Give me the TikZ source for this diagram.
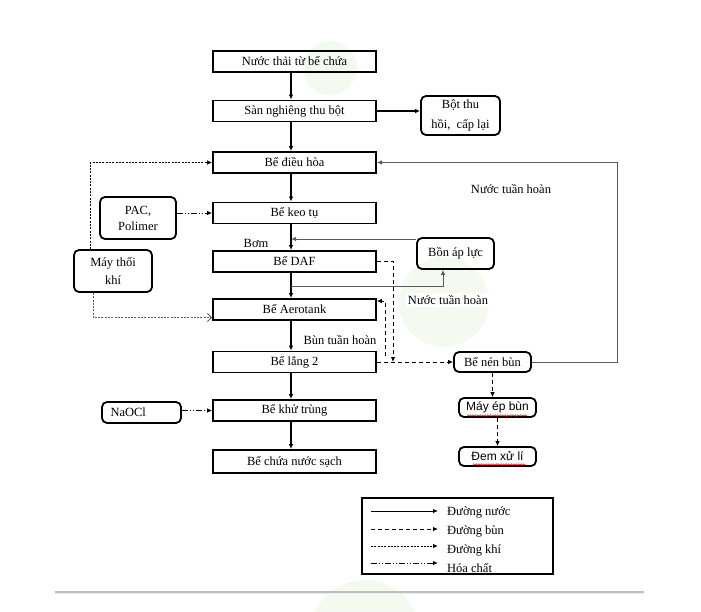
\documentclass[tikz,border=0pt]{standalone}
\usepackage{fontspec}
\setmainfont{Liberation Serif}
\newfontfamily\arialfont{Liberation Sans}
\usetikzlibrary{arrows.meta,decorations.pathmorphing}
\definecolor{wmgreen}{RGB}{245,250,241}
\definecolor{linegray}{RGB}{90,90,90}
\begin{document}
\begin{tikzpicture}[x=1pt,y=-1pt,
  font=\fontsize{12.5}{17}\selectfont,
  mainbox/.style={draw, line width=1.8pt, minimum width=163pt, minimum height=21pt, inner sep=0pt},
  sidebox/.style={draw, line width=1.8pt, rounded corners=5pt, align=center, inner sep=0pt},
  tip/.style={-{Latex[length=5pt,width=4.5pt]}},
  flow/.style={tip, line width=1.5pt},
  grayflow/.style={tip, line width=0.9pt, draw=linegray},
  sludge/.style={tip, line width=0.9pt, dash pattern=on 4pt off 3pt},
  air/.style={line width=0.9pt, dash pattern=on 2pt off 1.3pt},
  chem/.style={tip, line width=0.9pt, dash pattern=on 6pt off 2pt on 1pt off 2pt on 1pt off 2pt},
  lbl/.style={inner sep=1pt},
  squig/.style={draw=red, line width=0.5pt, decorate, decoration={snake, amplitude=0.7pt, segment length=2.5pt}}
]
\useasboundingbox (0,0) rectangle (701,611);
% faint watermark
\fill[wmgreen] (330,68) circle (27);
\fill[wmgreen] (444,302) circle (45);
\fill[wmgreen] (365,635) circle (55);

% main column
\node[mainbox] (b1) at (294.5,61.5) {Nước thải từ bể chứa};
\node[mainbox] (b2) at (294.5,111) {Sàn nghiêng thu bột};
\node[mainbox] (b3) at (294.5,162.5) {Bể điều hòa};
\node[mainbox] (b4) at (294.5,213) {Bể keo tụ};
\node[mainbox] (b5) at (294.5,261.5) {Bể DAF};
\node[mainbox] (b6) at (294.5,309.5) {Bể Aerotank};
\node[mainbox] (b7) at (294.5,362) {Bể lắng 2};
\node[mainbox] (b8) at (294.5,410.5) {Bể khử trùng};
\node[mainbox, minimum height=23pt] (b9) at (294.5,461.5) {Bể chứa nước sạch};

% side boxes
\node[sidebox, minimum width=79pt, minimum height=39pt, font=\fontsize{12.5}{20}\selectfont] (bot) at (460.5,115.5) {Bột thu\\hồi,\ \ cấp lại};
\node[sidebox, minimum width=76pt, minimum height=42pt, font=\fontsize{12.5}{16}\selectfont] (pac) at (138,218) {PAC,\\Polimer};
\node[sidebox, minimum width=78pt, minimum height=42pt, font=\fontsize{12.5}{18}\selectfont] (may) at (113,271) {Máy thổi\\khí};
\node[sidebox, minimum width=79pt, minimum height=21pt, text width=62pt, align=left] (naocl) at (141.5,412.5) {NaOCl};
\node[sidebox, minimum width=77pt, minimum height=31pt] (bon) at (455.5,253.5) {Bồn áp lực};
\node[sidebox, minimum width=77pt, minimum height=20pt] (nen) at (492.5,362) {Bể nén bùn};
\node[sidebox, minimum width=77pt, minimum height=19pt, font=\arialfont\fontsize{12}{14}\selectfont] (ep) at (497.5,407.5) {Máy ép bùn};
\node[sidebox, minimum width=77pt, minimum height=19pt, font=\arialfont\fontsize{12}{14}\selectfont] (dem) at (497.5,456.5) {Đem xử lí};

% spell-check squiggles
\coordinate (q1) at (467,415.5); \coordinate (q2) at (527,415.5);
\coordinate (q3) at (473,464.5); \coordinate (q4) at (525,464.5);
\draw[squig] (q1) -- (q2);
\draw[squig] (q3) -- (q4);

% main flow
\foreach \a/\b in {b1/b2,b2/b3,b3/b4,b4/b5,b5/b6,b6/b7,b7/b8,b8/b9}
  \draw[flow] ([xshift=-3.5pt]\a.south) -- ([xshift=-3.5pt]\b.north);
\draw[flow] (b2.east) -- (b2.east -| bot.west);

% recirculated water from sludge thickener
\coordinate (r1) at (617,362);
\coordinate (r2) at (617,162.5);
\draw[grayflow] (nen.east) -- (r1) -- (r2) -- (b3.east);
\node[lbl] (lnth1) at (511,189) {Nước tuần hoàn};

% pressure tank loop
\coordinate (p1) at (291,239);
\coordinate (p2) at (291,286);
\coordinate (p3) at (443,286);
\draw[grayflow] (p1 -| bon.west) -- (p1);
\draw[grayflow] (p2) -- (p3) -- (p3 |- bon.south);
\node[lbl] (bom) at (256,243) {Bơm};
\node[lbl, fill=white, inner sep=2pt] (lnth2) at (448,300) {Nước tuần hoàn};

% air lines
\coordinate (a1) at (90,162.5);
\coordinate (a3) at (93,317.5);
\draw[air, tip] (may.north -| a1) -- (a1) -- (b3.west);
\draw[air, draw=linegray, -{Straight Barb[length=4pt,width=8pt]}] (may.south -| a3) -- (a3) -- (a3 -| b6.west);

% chemicals
\draw[chem] (b4.west -| pac.east) -- (b4.west);
\draw[chem] (b8.west -| naocl.east) -- (b8.west);

% sludge lines
\coordinate (s1) at (393,261.5);
\coordinate (s2) at (393,362);
\draw[sludge] (b5.east) -- (s1) -- (s2);
\draw[sludge] (b7.east) -- (nen.west);
\coordinate (s3) at (385,356);
\coordinate (s4) at (385,301);
\draw[sludge] (s3) -- (s4) -- (s4 -| b6.east);
\node[lbl] (lbth) at (340,340) {Bùn tuần hoàn};
\draw[sludge] (nen.south) -- (nen.south |- ep.north);
\draw[sludge] (ep.south) -- (dem.north);

% legend
\node[draw, line width=1.1pt, minimum width=191pt, minimum height=76pt, inner sep=0pt] (leg) at (457.5,536) {};
\coordinate (l1a) at (371,511); \coordinate (l1b) at (438,511);
\coordinate (l2a) at (371,529); \coordinate (l2b) at (438,529);
\coordinate (l3a) at (371,546); \coordinate (l3b) at (438,546);
\coordinate (l4a) at (371,563); \coordinate (l4b) at (438,563);
\draw[tip, line width=0.9pt] (l1a) -- (l1b);
\draw[sludge] (l2a) -- (l2b);
\draw[air, tip] (l3a) -- (l3b);
\draw[chem] (l4a) -- (l4b);
\node[lbl, anchor=west] (t1) at (446,512) {Đường nước};
\node[lbl, anchor=west] (t2) at (446,531) {Đường bùn};
\node[lbl, anchor=west] (t3) at (446,550) {Đường khí};
\node[lbl, anchor=west] (t4) at (446,568) {Hóa chất};

% bottom rule
\coordinate (h1) at (55,592); \coordinate (h2) at (644,592);
\draw[line width=1.6pt, draw=black!25] (h1) -- (h2);
\draw[line width=1.5pt, draw=black!7] ([yshift=-1.5pt]h1) -- ([yshift=-1.5pt]h2);
\end{tikzpicture}
\end{document}
